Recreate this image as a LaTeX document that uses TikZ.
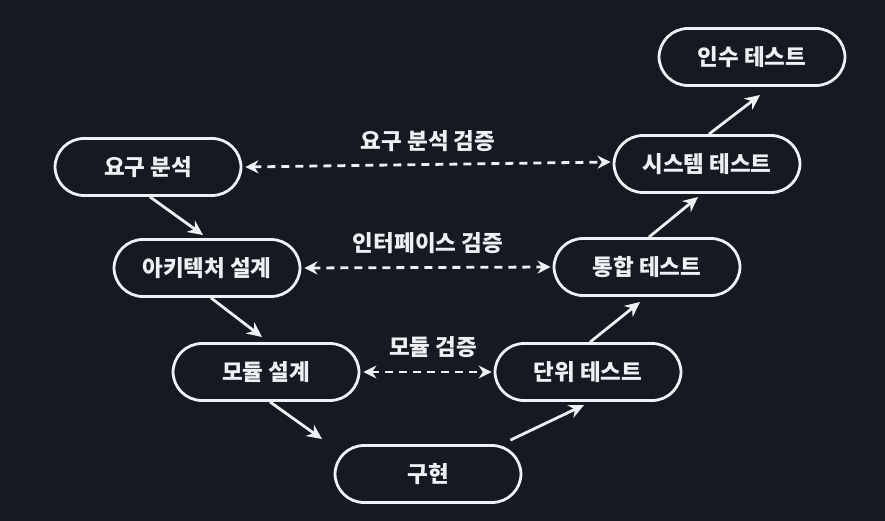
\documentclass[tikz,border=0pt]{standalone}
\usepackage{fontspec}
\setmainfont{Noto Sans CJK KR}
\usetikzlibrary{arrows.meta}
\definecolor{bgc}{HTML}{151922}
\definecolor{fg}{HTML}{EEF0F3}
\begin{document}
\begin{tikzpicture}[x=1pt,y=-1pt,
  stage/.style={draw=fg, line width=2.8pt, rounded corners=29pt, minimum width=186pt, minimum height=57pt, text=fg, font=\fontsize{22.5}{26}\selectfont\bfseries, inner sep=0pt},
  flow/.style={draw=fg, line width=2.8pt, -{Stealth[length=15pt,width=14pt]}},
  verify/.style={draw=fg, line width=2.8pt, dash pattern=on 8pt off 6pt, {Stealth[length=13pt,width=13pt]}-{Stealth[length=13pt,width=13pt]}},
  lbl/.style={text=fg, font=\fontsize{22.5}{26}\selectfont\bfseries, inner sep=0pt}]
\fill[bgc] (0,0) rectangle (885,521);
\useasboundingbox (0,0) rectangle (885,521);
\node[stage] (acc) at (752,57) {인수 테스트};
\node[stage] (req) at (148,167) {요구 분석};
\node[stage] (sys) at (707,164) {시스템 테스트};
\node[stage] (arch) at (207,268) {아키텍처 설계};
\node[stage] (integ) at (647,267) {통합 테스트};
\node[stage] (mod) at (266,372) {모듈 설계};
\node[stage] (unit) at (588,372) {단위 테스트};
\node[stage] (impl) at (428,474) {구현};
\coordinate (t1) at (203,235);
\coordinate (t2) at (262,337);
\coordinate (t3) at (322,439);
\coordinate (t4) at (584,405);
\coordinate (t5) at (640,302);
\coordinate (t6) at (698,197);
\coordinate (t7) at (760,95);
\draw[flow] (req.south) ++(2,0) -- (t1);
\draw[flow] (arch.south) ++(4,0) -- (t2);
\draw[flow] (mod.south) ++(4,0) -- (t3);
\draw[flow] (impl.north east) ++(-12,-4) -- (t4);
\draw[flow] (unit.north) ++(2,0) -- (t5);
\draw[flow] (integ.north) ++(2,0) -- (t6);
\draw[flow] (sys.north) ++(2,0) -- (t7);
\draw[verify] ([xshift=3pt]req.east) -- ([xshift=-2pt,yshift=2pt]sys.west);
\draw[verify] ([xshift=3pt]arch.east) -- ([xshift=-2pt]integ.west);
\draw[verify] ([xshift=3pt]mod.east) -- ([xshift=-2pt]unit.west);
\node[lbl] (l1) at (428,141) {요구 분석 검증};
\node[lbl] (l2) at (428,243) {인터페이스 검증};
\node[lbl] (l3) at (433,347) {모듈 검증};
\end{tikzpicture}
\end{document}
